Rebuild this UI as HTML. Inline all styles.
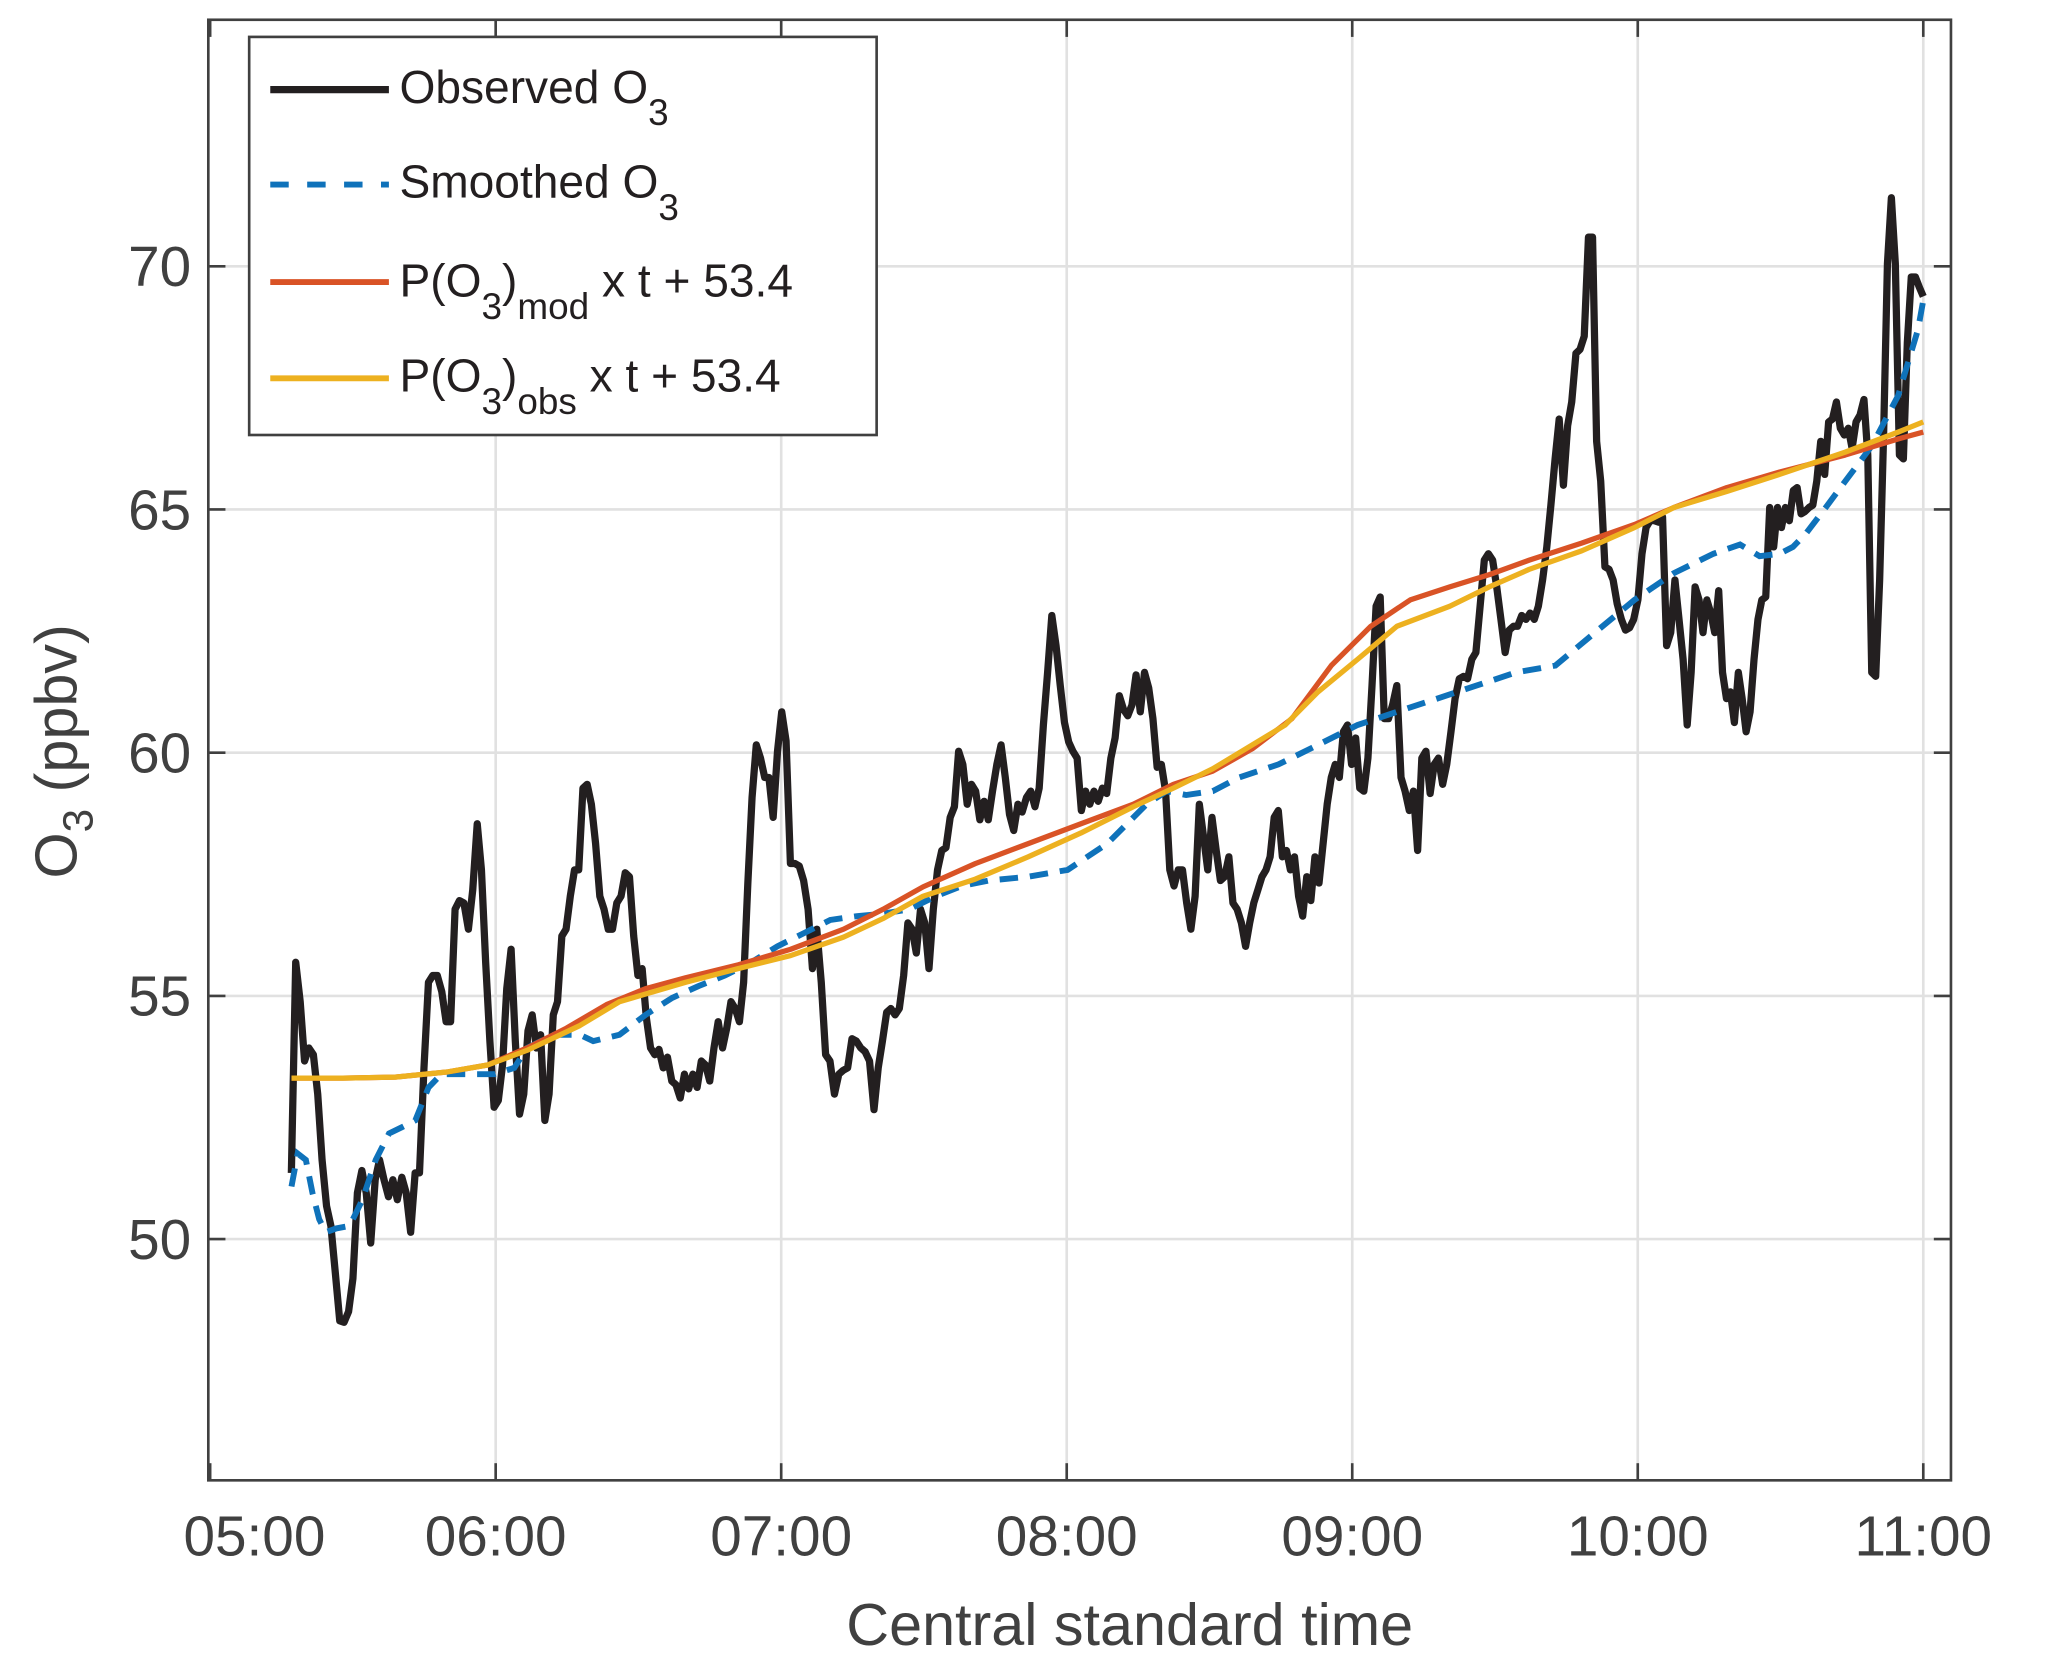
<!DOCTYPE html>
<html><head><meta charset="utf-8"><style>
html,body{margin:0;padding:0;background:#fff}
svg{display:block}
text{font-family:"Liberation Sans",Arial,sans-serif}
</style></head><body>
<svg id="chart" width="2067" height="1677" viewBox="0 0 1568 1272.2" xmlns="http://www.w3.org/2000/svg">
<rect x="0" y="0" width="1568" height="1272.2" fill="#fff"/>
<g id="grid"></g>
<g id="series"></g>
<g id="axes"></g>
<text x="857" y="1248" font-size="45" fill="#404040" text-anchor="middle">Central standard time</text>
<text transform="translate(58,570) rotate(-90)" font-size="45" fill="#404040" text-anchor="middle">O<tspan font-size="32" dy="12">3</tspan><tspan dy="-12"> (ppbv)</tspan></text>
<g>
<rect x="189" y="28" width="476" height="302" fill="#fff" stroke="#404040" stroke-width="2"/>
<g><line x1="205" y1="68" x2="295" y2="68" stroke="#231f20" stroke-width="5.5"/><text x="303" y="78" font-size="35" fill="#231f20">Observed O<tspan font-size="28" dy="17">3</tspan></text></g>
<g><line x1="205" y1="140" x2="295" y2="140" stroke="#0f72ba" stroke-width="4.5" stroke-dasharray="14,14"/><text x="303" y="150" font-size="35" fill="#231f20">Smoothed O<tspan font-size="28" dy="17">3</tspan></text></g>
<g><line x1="205" y1="214" x2="295" y2="214" stroke="#d95326" stroke-width="4.5"/><text x="303" y="225" font-size="35" fill="#231f20">P(O<tspan font-size="28" dy="17">3</tspan><tspan dy="-17">)</tspan><tspan font-size="28" dy="17">mod</tspan><tspan dy="-17"> x t + 53.4</tspan></text></g>
<g><line x1="205" y1="287" x2="295" y2="287" stroke="#edb120" stroke-width="4.5"/><text x="303" y="297" font-size="35" fill="#231f20">P(O<tspan font-size="28" dy="17">3</tspan><tspan dy="-17">)</tspan><tspan font-size="28" dy="17">obs</tspan><tspan dy="-17"> x t + 53.4</tspan></text></g>
</g>
</svg>
<script>
// minutes after 05:00 for tick labels
const xTickMin = [0, 60, 120, 180, 240, 300, 360];
const xTickLabels = ["05:00","06:00","07:00","08:00","09:00","10:00","11:00"];
const yTicks = [50, 55, 60, 65, 70];
// observation sample index -> time (minutes after 05:00) anchors
const obsAnchorIdx = [0, 12, 42, 114, 135, 177, 223, 256, 306, 330, 382, 390];
const obsAnchorMin = [17.06, 28.14, 56.12, 120.10, 139.49, 176.88, 217.6, 245.86, 289.63, 310.4, 353.3, 360.0];
const observed = [51.36,55.69,54.88,53.66,53.93,53.79,52.98,51.63,50.68,50.27,49.32,48.32,48.29,48.51,49.19,50.95,51.41,50.95,49.92,51.22,51.63,51.22,50.87,51.22,50.81,51.27,50.95,50.14,51.36,51.36,53.52,55.28,55.42,55.42,55.09,54.47,54.47,56.78,56.96,56.91,56.37,57.18,58.54,57.59,55.69,54.07,52.71,52.85,53.58,55.15,55.96,54.07,52.57,52.98,54.28,54.61,53.93,54.20,52.44,52.98,54.61,54.88,56.23,56.37,57.05,57.59,57.59,59.27,59.35,58.94,58.13,57.05,56.78,56.37,56.37,56.91,57.05,57.53,57.45,56.23,55.42,55.56,54.55,53.93,53.79,53.90,53.52,53.74,53.25,53.17,52.90,53.39,53.09,53.39,53.12,53.66,53.58,53.25,53.93,54.47,53.93,54.34,54.88,54.74,54.47,55.28,57.32,59.08,60.16,59.89,59.49,59.49,58.67,60.03,60.84,60.24,57.72,57.72,57.67,57.37,56.78,55.56,56.37,55.28,53.79,53.66,52.98,53.39,53.47,53.52,54.12,54.07,53.93,53.85,53.66,52.66,53.52,54.07,54.66,54.74,54.61,54.74,55.42,56.50,56.37,55.88,56.78,56.50,55.56,56.78,57.59,57.99,58.05,58.67,58.89,60.03,59.76,58.94,59.35,59.21,58.62,59.00,58.62,59.21,59.76,60.16,59.49,58.73,58.40,58.94,58.78,59.08,59.21,58.89,59.27,60.57,61.65,62.82,62.20,61.38,60.62,60.22,60.03,59.89,58.81,59.21,58.94,59.21,59.00,59.27,59.16,59.89,60.30,61.17,60.89,60.76,60.98,61.60,60.84,61.65,61.33,60.70,59.70,59.76,59.21,57.59,57.26,57.59,57.59,56.91,56.37,57.05,58.94,58.27,57.59,58.67,57.99,57.37,57.45,57.86,56.91,56.78,56.50,56.02,56.50,56.91,57.18,57.45,57.59,57.86,58.67,58.81,57.86,57.99,57.59,57.86,57.05,56.64,57.45,56.96,57.86,57.32,58.13,58.94,59.49,59.76,59.49,60.43,60.57,59.76,60.30,59.27,59.21,59.89,61.38,63.01,63.20,60.70,60.70,60.98,61.38,59.49,59.21,58.81,59.21,57.99,59.89,60.03,59.16,59.76,59.89,59.35,59.76,60.43,61.11,61.52,61.57,61.52,61.92,62.06,63.01,63.96,64.09,63.96,63.41,62.74,62.06,62.52,62.60,62.60,62.82,62.74,62.87,62.74,63.01,63.55,64.23,65.09,66.04,66.86,65.50,66.72,67.21,68.21,68.29,68.56,70.60,70.60,66.40,65.58,63.82,63.77,63.55,63.06,62.74,62.52,62.57,62.74,63.14,64.09,64.63,64.77,64.77,64.74,64.85,62.20,62.47,63.55,62.74,61.92,60.57,61.65,63.41,63.14,62.47,63.14,62.87,62.47,63.33,61.65,61.11,61.25,60.62,61.65,61.11,60.43,60.84,61.92,62.74,63.14,63.20,65.04,64.23,65.04,64.63,65.04,64.77,65.39,65.45,64.91,64.96,65.04,65.09,65.58,66.40,65.72,66.80,66.86,67.21,66.67,66.53,66.67,66.26,66.80,66.94,67.26,66.12,61.65,61.57,63.55,66.53,70.05,71.41,70.05,66.12,66.04,68.43,69.78,69.78,69.57,69.38];
const smoothT = [17.1,18.4,20.1,21.5,22.9,24.3,26.5,29.3,32.0,34.8,37.6,40.3,43.1,45.9,48.6,51.4,56.9,59.7,63.9,66.6,72.2,77.7,80.5,86.0,91.5,97.1,102.6,108.2,113.7,119.2,124.8,130.3,135.9,141.4,146.9,152.5,158.0,163.6,171.9,180.2,188.5,196.8,201.0,205.1,210.7,216.2,224.5,232.8,241.1,249.4,257.8,266.1,274.4,282.7,291.0,299.3,307.6,315.9,321.5,325.6,329.8,332.6,335.3,339.5,343.6,349.2,354.7,358.9,360.0];
const smoothV = [51.08,51.76,51.63,50.95,50.41,50.14,50.22,50.27,50.81,51.63,52.17,52.30,52.44,53.12,53.39,53.39,53.39,53.39,53.52,53.93,54.20,54.20,54.07,54.20,54.61,54.96,55.20,55.42,55.69,56.02,56.29,56.56,56.64,56.69,56.78,57.05,57.26,57.37,57.45,57.59,58.13,58.94,59.21,59.13,59.21,59.49,59.76,60.16,60.57,60.84,61.11,61.38,61.65,61.79,62.47,63.14,63.69,64.09,64.28,64.04,64.09,64.23,64.50,65.04,65.58,66.31,67.34,68.70,69.30];
const modT = [17.1,27.9,38.9,50.0,58.3,66.6,74.9,83.3,91.5,99.9,111.0,122.0,133.1,141.4,149.8,160.8,171.9,183.0,194.0,202.4,210.7,219.0,227.3,235.6,243.9,252.2,260.5,268.8,277.2,288.2,299.3,307.6,318.7,329.8,343.6,354.7,360.0];
const modV = [53.31,53.31,53.33,53.44,53.58,53.93,54.34,54.82,55.15,55.37,55.64,55.96,56.37,56.78,57.24,57.72,58.13,58.54,58.94,59.35,59.62,60.08,60.70,61.79,62.60,63.14,63.41,63.66,63.96,64.31,64.69,65.04,65.45,65.77,66.12,66.45,66.59];
const obsPT = [17.1,27.9,38.9,50.0,58.3,66.6,77.7,86.0,99.9,111.0,122.0,133.1,141.4,149.8,160.8,171.9,183.0,194.0,202.4,210.7,219.0,225.9,232.8,241.1,249.4,260.5,268.8,277.2,288.2,299.3,307.6,318.7,329.8,343.6,354.7,360.0];
const obsPV = [53.31,53.31,53.33,53.44,53.58,53.88,54.39,54.88,55.28,55.56,55.83,56.21,56.59,57.05,57.40,57.86,58.35,58.89,59.27,59.67,60.16,60.57,61.25,61.92,62.60,63.01,63.41,63.77,64.15,64.63,65.04,65.37,65.72,66.18,66.59,66.80];

const L=158,R=1480,T=15,B=1123;
function X(m){return 159.4 + m*3.61;}
function Y(v){return 940 - (v-50)*36.9;}
const NS="http://www.w3.org/2000/svg";
function mk(tag,attrs,parent){const e=document.createElementNS(NS,tag);for(const k in attrs)e.setAttribute(k,attrs[k]);parent.appendChild(e);return e;}
const grid=document.getElementById('grid'),axes=document.getElementById('axes'),series=document.getElementById('series');

xTickMin.forEach((m,i)=>{
  const x=X(m);
  if(i>0){const g=mk('line',{x1:x,y1:T,x2:x,y2:B,stroke:'#e1e1e1','stroke-width':2},grid);
  
  }
  const t1=mk('line',{x1:x,y1:B,x2:x,y2:B-13,stroke:'#404040','stroke-width':2},axes);
  
  
  const t2=mk('line',{x1:x,y1:T,x2:x,y2:T+13,stroke:'#404040','stroke-width':2},axes);
  
  
  const lx = i===0 ? 193 : x;
  const lb=mk('text',{x:lx,y:1180,'font-size':43,fill:'#404040','text-anchor':'middle'},axes);
  lb.textContent=xTickLabels[i];
  
  
});
yTicks.forEach(v=>{
  const y=Y(v);
  const g=mk('line',{x1:L,y1:y,x2:R,y2:y,stroke:'#e1e1e1','stroke-width':2},grid);
  
  
  const t1=mk('line',{x1:L,y1:y,x2:L+13,y2:y,stroke:'#404040','stroke-width':2},axes);
  
  
  const t2=mk('line',{x1:R,y1:y,x2:R-13,y2:y,stroke:'#404040','stroke-width':2},axes);
  
  
  const lb=mk('text',{x:145,y:y+15,'font-size':43,fill:'#404040','text-anchor':'end'},axes);
  lb.textContent=String(v);
  
  
});
const box=mk('rect',{x:L,y:T,width:R-L,height:B-T,fill:'none',stroke:'#404040','stroke-width':2},axes);



function path(ts,vs){return ts.map((t,i)=>(i?'L':'M')+X(t).toFixed(1)+','+Y(vs[i]).toFixed(1)).join(' ');}
function obsTime(i){
  for(let k=0;k<obsAnchorIdx.length-1;k++){
    const a=obsAnchorIdx[k],b=obsAnchorIdx[k+1];
    if(i<=b||k===obsAnchorIdx.length-2){return obsAnchorMin[k]+(obsAnchorMin[k+1]-obsAnchorMin[k])*(i-a)/(b-a);}
  }
}
const obsT=observed.map((_,i)=>obsTime(i));
const p1=mk('path',{d:path(obsT,observed),fill:'none',stroke:'#231f20','stroke-width':5.5,'stroke-linejoin':'round'},series);


const p2=mk('path',{d:path(smoothT,smoothV),fill:'none',stroke:'#0f72ba','stroke-width':4.5,'stroke-dasharray':'14,9'},series);


const p3=mk('path',{d:path(modT,modV),fill:'none',stroke:'#d95326','stroke-width':4,'stroke-linejoin':'round'},series);


const p4=mk('path',{d:path(obsPT,obsPV),fill:'none',stroke:'#edb120','stroke-width':4,'stroke-linejoin':'round'},series);


</script>
</body></html>
